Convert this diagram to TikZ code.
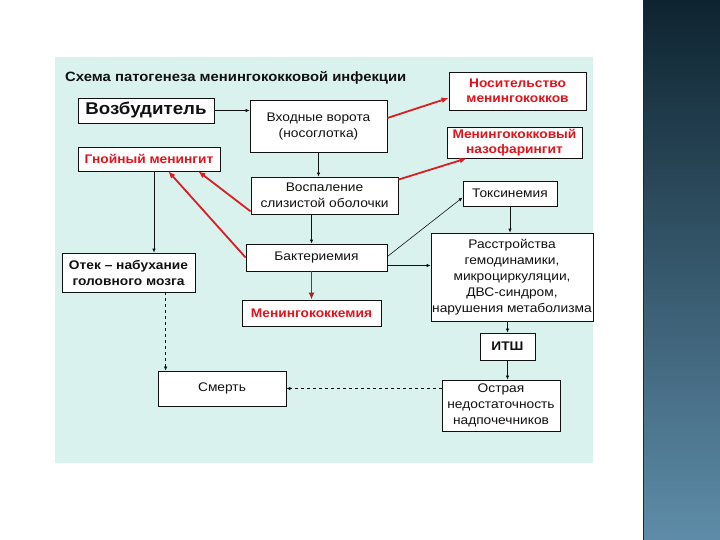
\documentclass[tikz,border=0pt]{standalone}
\usepackage{fontspec}
\setmainfont{Liberation Sans}[FakeStretch=1.1]
\usetikzlibrary{arrows.meta,calc,positioning}
\definecolor{ink}{HTML}{111111}
\definecolor{mint}{HTML}{DAF2EE}
\definecolor{alarm}{HTML}{E3121B}
\definecolor{alarml}{HTML}{D91E22}
\definecolor{alarmd}{HTML}{A3231C}
\definecolor{bartop}{HTML}{0E2430}
\definecolor{barbot}{HTML}{5E8CA8}
\definecolor{baredge}{HTML}{1B2A33}
\tikzset{
  box/.style={draw=ink,fill=white,line width=0.8pt,align=center,inner sep=1pt,
    text=ink,font=\fontsize{12.5}{16}\selectfont},
  bbox/.style={box,font=\bfseries\fontsize{12.5}{16}\selectfont},
  rbox/.style={box,text=alarm,font=\bfseries\fontsize{12.5}{15.5}\selectfont},
  arr/.style={ink,line width=0.6pt,-{Latex[length=4pt,width=3.5pt]}},
  warr/.style={arr,line width=1.4pt},
  darr/.style={arr,dashed},
  rarr/.style={alarml,line width=1.8pt,-{Latex[length=7pt,width=6pt]}},
}
\begin{document}
\begin{tikzpicture}[x=1pt,y=-1pt]
  \useasboundingbox (0,0) rectangle (720,540);
  % ---------- slide ----------
  \fill[white] (0,0) rectangle (720,540);
  \shade[top color=bartop,bottom color=barbot] (643,0) rectangle (720,540);
  \draw[baredge,line width=1.2pt] (643.6,0) -- (643.6,540);
  \fill[mint] (55,57) rectangle (593,463);
  % ---------- title ----------
  \node[anchor=west,inner sep=0pt,font=\bfseries\fontsize{13.5}{15}\selectfont,text=ink] (title) at (65,78)
    {Схема патогенеза менингококковой инфекции};
  % ---------- boxes ----------
  \node[box,minimum width=136pt,minimum height=25pt,font=\bfseries\fontsize{17}{19}\selectfont] (vozb) at (146,110.5) {Возбудитель};
  \node[box,minimum width=137pt,minimum height=52pt] (vorota) at (318.5,126) {Входные ворота\\(носоглотка)};
  \node[rbox,minimum width=137pt,minimum height=38pt] (nosit) at (517.5,91) {Носительство\\менингококков};
  \node[rbox,minimum width=135pt,minimum height=31pt] (nazof) at (514.5,142.5) {Менингококковый\\назофарингит};
  \node[rbox,minimum width=142pt,minimum height=24pt] (gnoin) at (149,159) {Гнойный менингит};
  \node[box,minimum width=147pt,minimum height=37pt] (vospal) at (324.5,195.5) {Воспаление\\слизистой оболочки};
  \node[box,minimum width=94pt,minimum height=25pt] (toksin) at (510,193.5) {Токсинемия};
  \node[box,minimum width=141pt,minimum height=27pt] (bakter) at (316.5,257.5) {Бактериемия};
  \node[bbox,minimum width=133pt,minimum height=39pt] (otek) at (128.5,272.5) {Отек – набухание\\головного мозга};
  \node[box,minimum width=162pt,minimum height=88pt] (rasstr) at (512,277)
    {Расстройства\\гемодинамики,\\микроциркуляции,\\ДВС-синдром,\\нарушения метаболизма};
  \node[rbox,minimum width=139pt,minimum height=26pt] (mkokk) at (311.5,313) {Менингококкемия};
  \node[bbox,minimum width=55pt,minimum height=27pt] (itsh) at (507.5,346.5) {ИТШ};
  \node[box,minimum width=128pt,minimum height=35pt] (smert) at (222,388.5) {Смерть};
  \node[box,minimum width=118pt,minimum height=51pt] (ostr) at (501,405.5) {Острая\\недостаточность\\надпочечников};
  % ---------- helper points ----------
  \coordinate (gnoinA) at ([xshift=5pt]gnoin.south);
  \coordinate (vospalA) at ([xshift=-13pt]vospal.south);
  \coordinate (bakterA) at ([yshift=-8pt]bakter.east);
  \coordinate (smertA) at ([xshift=8pt]smert.north west);
  % ---------- black links ----------
  \draw[arr] (vozb.east) -- (vozb.east -| vorota.west);
  \draw[arr] (vorota.south) -- (vorota.south |- vospal.north);
  \draw[warr] (vospalA) -- (vospalA |- bakter.north);
  \draw[arr] (gnoinA) -- (gnoinA |- otek.north);
  \draw[arr] ([yshift=1pt]bakter.east) -- ([yshift=-4pt]toksin.west);
  \draw[arr] (bakterA) -- (bakterA -| rasstr.west);
  \draw[arr] (toksin.south) -- (toksin.south |- rasstr.north);
  \draw[arr] (itsh.north |- rasstr.south) -- (itsh.north);
  \draw[arr] (itsh.south) -- (itsh.south |- ostr.north);
  \draw[darr] (smert.east -| ostr.west) -- (smert.east);
  \draw[darr] (smertA |- otek.south) -- (smertA);
  % ---------- red links ----------
  \draw[rarr] ([yshift=8pt]vorota.east) -- ([yshift=-7pt]nosit.west);
  \draw[rarr] ([yshift=-3pt]vospal.north east) -- ([xshift=20pt]nazof.south west);
  \draw[rarr] ([yshift=3pt]vospal.south west) -- ([xshift=-22pt]gnoin.south east);
  \draw[rarr] (bakter.west) -- ([xshift=-52pt]gnoin.south east);
  \draw[rarr,alarmd,line width=1.4pt] (mkokk.north |- bakter.south) -- (mkokk.north);
\end{tikzpicture}
\end{document}
